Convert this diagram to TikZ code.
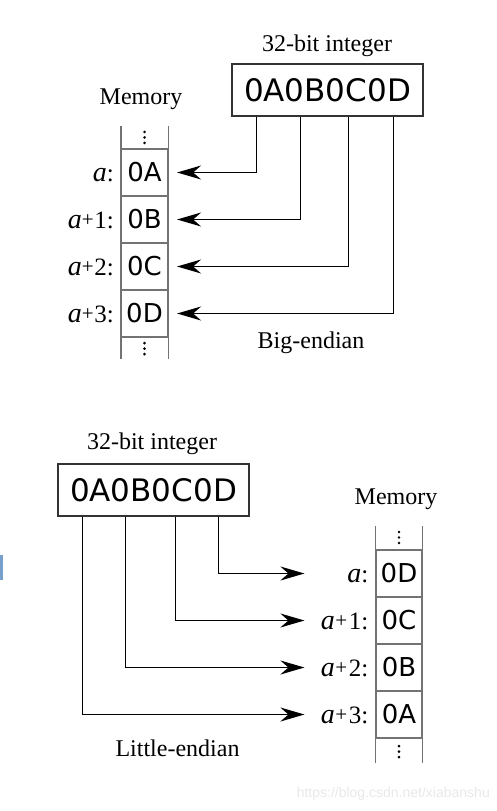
\documentclass[tikz,border=0pt]{standalone}
\usepackage{fontspec}
\setmainfont{Liberation Serif}
\newfontfamily\hexfont{DejaVu Sans}
\newfontfamily\wmfont{Liberation Sans}
\usetikzlibrary{arrows.meta}
\definecolor{colgray}{gray}{0.45}
\definecolor{boxgray}{gray}{0.2}
\definecolor{wmgray}{gray}{0.91}
\definecolor{barblue}{RGB}{120,160,205}
\newcommand{\addra}{{\fontsize{28}{28}\selectfont\itshape a}}
\newcommand{\addrplus}{{\fontsize{21}{21}\selectfont\raisebox{2.6pt}{+}}}
\begin{document}
\begin{tikzpicture}[x=1pt,y=-1pt,
  lbl/.style={font=\fontsize{24}{28}\selectfont, inner sep=0pt},
  addr/.style={font=\fontsize{25}{28}\selectfont, inner sep=0pt, anchor=base east},
  hexbox/.style={draw=boxgray, line width=1.3pt, minimum width=191pt, minimum height=52pt, inner sep=0pt, font=\hexfont\fontsize{31}{34}\selectfont},
  cell/.style={draw=colgray, line width=1.2pt, minimum width=46pt, minimum height=47pt, inner sep=0pt, font=\hexfont\fontsize{26}{30}\selectfont},
  colside/.style={draw=colgray, line width=1.2pt},
  arr/.style={line width=1.4pt, -{Stealth[length=24pt,width=14pt,inset=8pt]}},
  dotfill/.style={fill=black}]
\path[use as bounding box] (0,0) rectangle (497,811);

% ---------- Big-endian ----------
\node[lbl, anchor=base] (t1) at (327,51) {32-bit integer};
\node[hexbox] (b1) at (327.5,90) {0A0B0C0D};
\node[lbl, anchor=base] (mem1) at (141,104) {Memory};
\node[cell] (a1) at (144.5,172.5) {0A};
\node[cell] (a2) at (144.5,219.5) {0B};
\node[cell] (a3) at (144.5,266.5) {0C};
\node[cell] (a4) at (144.5,313.5) {0D};
\draw[colside] ([yshift=22pt]a1.north west) -- ([yshift=-21pt]a4.south west);
\draw[colside] ([yshift=22pt]a1.north east) -- ([yshift=-21pt]a4.south east);
\foreach \d in {-5.5,0,5.5} {
  \fill[dotfill] ([yshift={(11+\d)*1pt}]a1.north) circle (1.4pt);
  \fill[dotfill] ([yshift={(-11+\d)*1pt}]a4.south) circle (1.4pt);
}
\node[addr] (la1) at ([xshift=-7pt]a1.base west) {\addra:};
\node[addr] (la2) at ([xshift=-7pt]a2.base west) {\addra\addrplus\kern0.5pt1:};
\node[addr] (la3) at ([xshift=-7pt]a3.base west) {\addra\addrplus\kern0.5pt2:};
\node[addr] (la4) at ([xshift=-7pt]a4.base west) {\addra\addrplus\kern0.5pt3:};
\draw[arr] ([xshift=25pt]b1.south west) |- ([xshift=9pt]a1.east);
\draw[arr] ([xshift=69pt]b1.south west) |- ([xshift=9pt]a2.east);
\draw[arr] ([xshift=117pt]b1.south west) |- ([xshift=9pt]a3.east);
\draw[arr] ([xshift=162pt]b1.south west) |- ([xshift=9pt]a4.east);
\node[lbl, anchor=base] (be) at (311,348) {Big-endian};

% ---------- Little-endian ----------
\node[lbl, anchor=base] (t2) at (152,449) {32-bit integer};
\node[hexbox] (b2) at (153.5,490) {0A0B0C0D};
\node[lbl, anchor=base] (mem2) at (396,504) {Memory};
\node[cell] (m1) at (399,573.5) {0D};
\node[cell] (m2) at (399,620.5) {0C};
\node[cell] (m3) at (399,667.5) {0B};
\node[cell] (m4) at (399,714.5) {0A};
\draw[colside] ([yshift=23pt]m1.north west) -- ([yshift=-24pt]m4.south west);
\draw[colside] ([yshift=23pt]m1.north east) -- ([yshift=-24pt]m4.south east);
\foreach \d in {-5.5,0,5.5} {
  \fill[dotfill] ([yshift={(12+\d)*1pt}]m1.north) circle (1.4pt);
  \fill[dotfill] ([yshift={(-13+\d)*1pt}]m4.south) circle (1.4pt);
}
\node[addr] (lm1) at ([xshift=-7pt]m1.base west) {\addra:};
\node[addr] (lm2) at ([xshift=-7pt]m2.base west) {\addra\kern0.5pt\addrplus\kern1.5pt1:};
\node[addr] (lm3) at ([xshift=-7pt]m3.base west) {\addra\kern0.5pt\addrplus\kern1.5pt2:};
\node[addr] (lm4) at ([xshift=-7pt]m4.base west) {\addra\kern0.5pt\addrplus\kern1.5pt3:};
\draw[arr] ([xshift=161pt]b2.south west) |- ([xshift=-71pt]m1.west);
\draw[arr] ([xshift=118pt]b2.south west) |- ([xshift=-71pt]m2.west);
\draw[arr] ([xshift=68pt]b2.south west) |- ([xshift=-71pt]m3.west);
\draw[arr] ([xshift=25pt]b2.south west) |- ([xshift=-71pt]m4.west);
\node[lbl, anchor=base] (le) at (177.5,756) {Little-endian};

% ---------- margins: screenshot marks ----------
\fill[barblue] (0,555) rectangle (2.5,580);
\node[font=\wmfont\fontsize{14}{16}\selectfont, text=wmgray, inner sep=0pt, anchor=base east] (wm) at (490,797) {https://blog.csdn.net/xiabanshu};
\end{tikzpicture}
\end{document}
